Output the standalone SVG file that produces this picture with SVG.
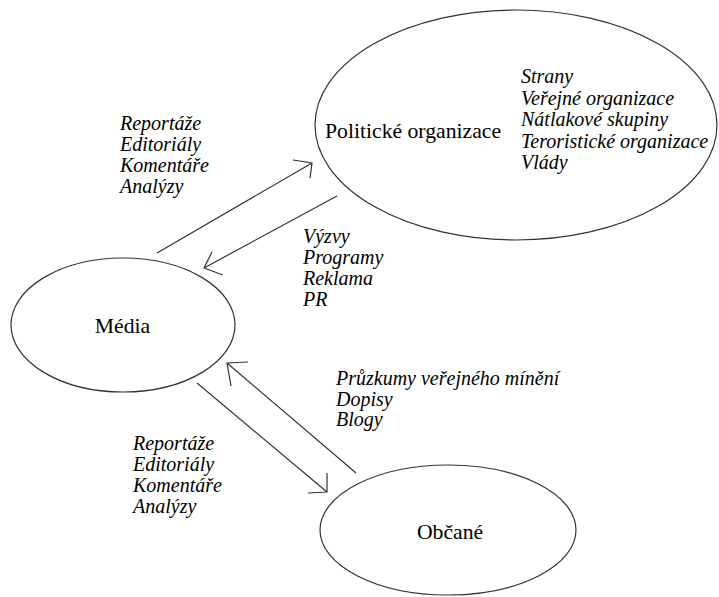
<svg xmlns="http://www.w3.org/2000/svg" width="719" height="597" viewBox="0 0 719 597">
<rect width="719" height="597" fill="#fff"/>
<g id="politicke">
<ellipse cx="516" cy="125" rx="201" ry="115" fill="#fff" stroke="#333" stroke-width="1.2"/>
<text x="325" y="138" font-family="Liberation Serif" font-size="21.7">Politické organizace</text>
<text x="521" y="83" font-family="Liberation Serif" font-size="20" font-style="italic">Strany</text>
<text x="521" y="104.5" font-family="Liberation Serif" font-size="20" font-style="italic">Veřejné organizace</text>
<text x="521" y="126" font-family="Liberation Serif" font-size="20" font-style="italic">Nátlakové skupiny</text>
<text x="521" y="147.5" font-family="Liberation Serif" font-size="20" font-style="italic">Teroristické organizace</text>
<text x="521" y="169" font-family="Liberation Serif" font-size="20" font-style="italic">Vlády</text>
</g>
<g id="media">
<ellipse cx="123" cy="325" rx="112" ry="67" fill="#fff" stroke="#333" stroke-width="1.2"/>
<text x="122.5" y="333" font-family="Liberation Serif" font-size="21.7" text-anchor="middle">Média</text>
</g>
<g id="obcane">
<ellipse cx="448" cy="530" rx="128" ry="65" fill="#fff" stroke="#333" stroke-width="1.2"/>
<text x="450" y="539" font-family="Liberation Serif" font-size="21.7" text-anchor="middle">Občané</text>
</g>
<g id="connectors" stroke="#333" stroke-width="1.2" fill="none">
<path d="M157,253 L312,163 M293,160 L312,163 L310,178"/>
<path d="M337,196 L204,268 M212,252 L204,268 L223,275"/>
<path d="M356,473 L227,363 M248,362 L227,363 L231,386"/>
<path d="M197,383 L327,492 M327,473 L327,492 L308,493"/>
</g>
<g id="labels">
<text x="120" y="130" font-family="Liberation Serif" font-size="20" font-style="italic">Reportáže</text>
<text x="120" y="151" font-family="Liberation Serif" font-size="20" font-style="italic">Editoriály</text>
<text x="120" y="172" font-family="Liberation Serif" font-size="20" font-style="italic">Komentáře</text>
<text x="120" y="193" font-family="Liberation Serif" font-size="20" font-style="italic">Analýzy</text>
<text x="303" y="243" font-family="Liberation Serif" font-size="20" font-style="italic">Výzvy</text>
<text x="303" y="264" font-family="Liberation Serif" font-size="20" font-style="italic">Programy</text>
<text x="303" y="285" font-family="Liberation Serif" font-size="20" font-style="italic">Reklama</text>
<text x="303" y="306" font-family="Liberation Serif" font-size="20" font-style="italic">PR</text>
<text x="336" y="385" font-family="Liberation Serif" font-size="20" font-style="italic">Průzkumy veřejného mínění</text>
<text x="336" y="405.5" font-family="Liberation Serif" font-size="20" font-style="italic">Dopisy</text>
<text x="336" y="426" font-family="Liberation Serif" font-size="20" font-style="italic">Blogy</text>
<text x="133" y="450" font-family="Liberation Serif" font-size="20" font-style="italic">Reportáže</text>
<text x="133" y="471" font-family="Liberation Serif" font-size="20" font-style="italic">Editoriály</text>
<text x="133" y="492" font-family="Liberation Serif" font-size="20" font-style="italic">Komentáře</text>
<text x="133" y="513" font-family="Liberation Serif" font-size="20" font-style="italic">Analýzy</text>
</g>
</svg>
